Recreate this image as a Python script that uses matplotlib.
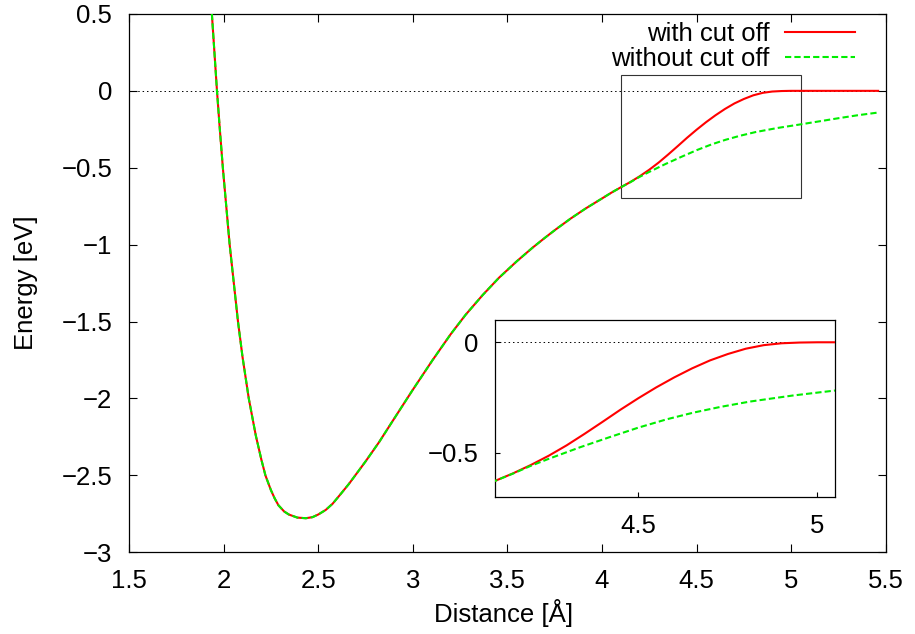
import matplotlib
matplotlib.use("Agg")
import matplotlib.pyplot as plt
from matplotlib.patches import Rectangle

plt.rcParams['font.family'] = ['Liberation Sans', 'DejaVu Sans']
plt.rcParams['font.size'] = 18.5
plt.rcParams['axes.unicode_minus'] = True

# common part of both curves
x_common = [1.938, 1.9515, 1.965, 1.98, 1.996, 2.014, 2.032, 2.054, 2.076, 2.10,
            2.133, 2.17, 2.20, 2.221, 2.25, 2.27, 2.29, 2.32, 2.345, 2.39,
            2.435, 2.47, 2.50, 2.54, 2.576, 2.62, 2.663, 2.71, 2.752, 2.822,
            2.87, 2.928, 2.96, 3.0, 3.104, 3.2, 3.28, 3.37, 3.456, 3.55,
            3.632, 3.70, 3.757, 3.835, 3.915, 4.0, 4.05, 4.1]
y_common = [0.5, 0.25, 0.0, -0.25, -0.5, -0.75, -1.0, -1.25, -1.5, -1.73,
            -2.0, -2.24, -2.40, -2.5, -2.596, -2.650, -2.695, -2.735, -2.755, -2.775,
            -2.779, -2.772, -2.755, -2.725, -2.685, -2.620, -2.555, -2.477, -2.407, -2.284,
            -2.192, -2.081, -2.02, -1.944, -1.752, -1.583, -1.455, -1.327, -1.215, -1.108,
            -1.021, -0.954, -0.900, -0.830, -0.764, -0.700, -0.662, -0.627]

# tails after the curves split
x_cut = [4.15, 4.2, 4.25, 4.3, 4.35, 4.4, 4.45, 4.5, 4.55, 4.6,
         4.65, 4.7, 4.75, 4.8, 4.85, 4.9, 4.95, 5.0, 5.46]
y_cut = [-0.593, -0.555, -0.513, -0.466, -0.414, -0.360, -0.305, -0.253, -0.204, -0.159,
         -0.118, -0.082, -0.053, -0.029, -0.013, -0.0045, -0.0012, 0.0, 0.0]

x_nocut = [4.15, 4.198, 4.25, 4.337, 4.42, 4.5, 4.58, 4.654, 4.73, 4.812,
           4.93, 5.05, 5.15, 5.25, 5.35, 5.46]
y_nocut = [-0.594, -0.560, -0.527, -0.475, -0.429, -0.386, -0.348, -0.318, -0.292, -0.268,
           -0.241, -0.218, -0.198, -0.178, -0.159, -0.141]

x_with = x_common + x_cut
y_with = y_common + y_cut
x_without = x_common + x_nocut
y_without = y_common + y_nocut

main_xlim = (1.5, 5.5)
main_ylim = (-3, 0.5)
zoom_xlim = (4.1, 5.05)
zoom_ylim = (-0.7, 0.1)

red = '#ff0000'
green = '#00ee00'

fig = plt.figure(figsize=(9.15, 6.34), dpi=100)
ax = fig.add_axes([0.141, 0.129, 0.827, 0.849])

ax.axhline(0, color='black', lw=0.7, ls=(0, (1.5, 3)), zorder=1)
ax.plot(x_with, y_with, color=red, lw=1.5, label='with cut off', zorder=3)
ax.plot(x_without, y_without, color=green, lw=1.5, dashes=(3, 1.5),
        label='without cut off', zorder=4)
ax.add_patch(Rectangle((zoom_xlim[0], zoom_ylim[0]), zoom_xlim[1] - zoom_xlim[0],
                       zoom_ylim[1] - zoom_ylim[0], fill=False, ec='#333333', lw=0.8, zorder=2))

ax.set_xlim(main_xlim)
ax.set_ylim(main_ylim)
ax.set_xticks([1.5, 2, 2.5, 3, 3.5, 4, 4.5, 5, 5.5])
ax.set_xticklabels(['1.5', '2', '2.5', '3', '3.5', '4', '4.5', '5', '5.5'])
ax.set_yticks([-3, -2.5, -2, -1.5, -1, -0.5, 0, 0.5])
ax.set_yticklabels(['\u22123', '\u22122.5', '\u22122', '\u22121.5', '\u22121', '\u22120.5', '0', '0.5'])
ax.tick_params(direction='in', length=6, width=0.8, top=True, right=True, pad=12)
for s in ax.spines.values():
    s.set_linewidth(0.9)

ax.set_xlabel('Distance [Å]')
ax.set_ylabel('Energy [eV]')
ax.xaxis.set_label_coords(0.495, -0.087)
ax.yaxis.set_label_coords(-0.12, 0.5)

ax.legend(loc='upper right', bbox_to_anchor=(0.959, 0.985), frameon=False,
          markerfirst=False, handlelength=2.7, handletextpad=0.6,
          labelspacing=0.05, borderpad=0, borderaxespad=0)

# inset
ax2 = fig.add_axes([0.541, 0.216, 0.372, 0.279])
ax2.axhline(0, color='black', lw=0.7, ls=(0, (1.5, 3)), zorder=1)
ax2.plot(x_with, y_with, color=red, lw=1.5, zorder=3)
ax2.plot(x_without, y_without, color=green, lw=1.5, dashes=(3, 1.5), zorder=4)
ax2.set_xlim(zoom_xlim)
ax2.set_ylim(zoom_ylim)
ax2.set_xticks([4.5, 5])
ax2.set_xticklabels(['4.5', '5'])
ax2.set_yticks([-0.5, 0])
ax2.set_yticklabels(['\u22120.5', '0'])
ax2.tick_params(direction='in', length=3.5, width=0.8, pad=12)
for s in ax2.spines.values():
    s.set_linewidth(0.9)

fig.savefig('out.png', dpi=100)
